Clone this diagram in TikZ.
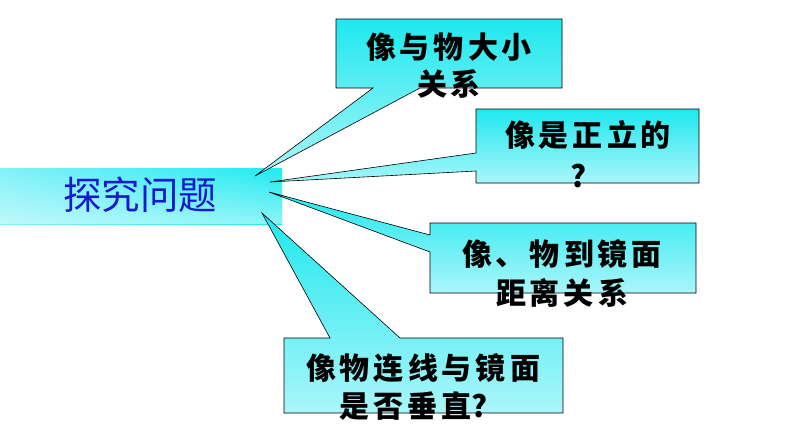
\documentclass[tikz,border=0pt]{standalone}
\usepackage{fontspec}
\usetikzlibrary{fadings}
\newfontfamily\cjk{Noto Sans CJK SC}
\newcommand\gp{\hspace{4pt}}
\definecolor{boxtop}{RGB}{30,232,238}
\definecolor{boxbot}{RGB}{170,246,250}
\definecolor{titleblue}{RGB}{25,25,205}
\tikzset{
  callout/.style={draw=black, line width=0.6pt, line join=miter, top color=boxtop, bottom color=boxbot},
  boxtext/.style={inner sep=0pt, font=\cjk\bfseries\fontsize{30pt}{30pt}\selectfont, text=black},
  titletext/.style={inner sep=0pt, font=\cjk\fontsize{38.5pt}{38.5pt}\selectfont, text=titleblue}
}
\begin{document}
\begin{tikzpicture}[x=1pt,y=-1pt]
\useasboundingbox (0,0) rectangle (794,447);
\fill[white] (0,0) rectangle (794,447);
% banner
\fill[left color={rgb,255:red,130;green,242;blue,248}, right color={rgb,255:red,30;green,235;blue,242}] (0,168) rectangle (282,224);
\fill[white, path fading=north, opacity=0.5] (0,168) rectangle (282,224);
\node[titletext] (title) at (140,195) {探究问题};
% coordinates
\coordinate (t1) at (255,176);
\coordinate (t2) at (270,182);
\coordinate (t3) at (269,192);
\coordinate (t4) at (262,213);
% callout 1
\path[callout] (336,19) -- (562,19) -- (562,88) -- (420,88) -- (t1) -- (373,88) -- (336,88) -- cycle;
% callout 2
\path[callout] (476,109) -- (699,109) -- (699,183) -- (476,183) -- (476,171) -- (t2) -- (476,153) -- cycle;
% callout 3
\path[callout] (430,223) -- (696,223) -- (696,293) -- (430,293) -- (430,252) -- (t3) -- (430,235) -- cycle;
% callout 4
\path[callout] (284,338) -- (330,338) -- (t4) -- (400,338) -- (563,338) -- (563,413) -- (284,413) -- cycle;
% texts
\node[boxtext] (b1a) at (449,47) {像\gp{}与\gp{}物\gp{}大\gp{}小};
\node[boxtext] (b1b) at (449,84) {关\gp{}系};
\node[boxtext] (b2a) at (588,135) {像\gp{}是\gp{}正\gp{}立\gp{}的};
\node[boxtext] (b2b) at (579,176) {?};
\node[boxtext] (b3a) at (562,254) {像\gp{}、\gp{}物\gp{}到\gp{}镜\gp{}面};
\node[boxtext] (b3b) at (562,293) {距\gp{}离\gp{}关\gp{}系};
\node[boxtext] (b4a) at (423,368) {像\gp{}物\gp{}连\gp{}线\gp{}与\gp{}镜\gp{}面};
\node[boxtext] (b4b) at (414,406) {是\gp{}否\gp{}垂\gp{}直?};
\end{tikzpicture}
\end{document}
